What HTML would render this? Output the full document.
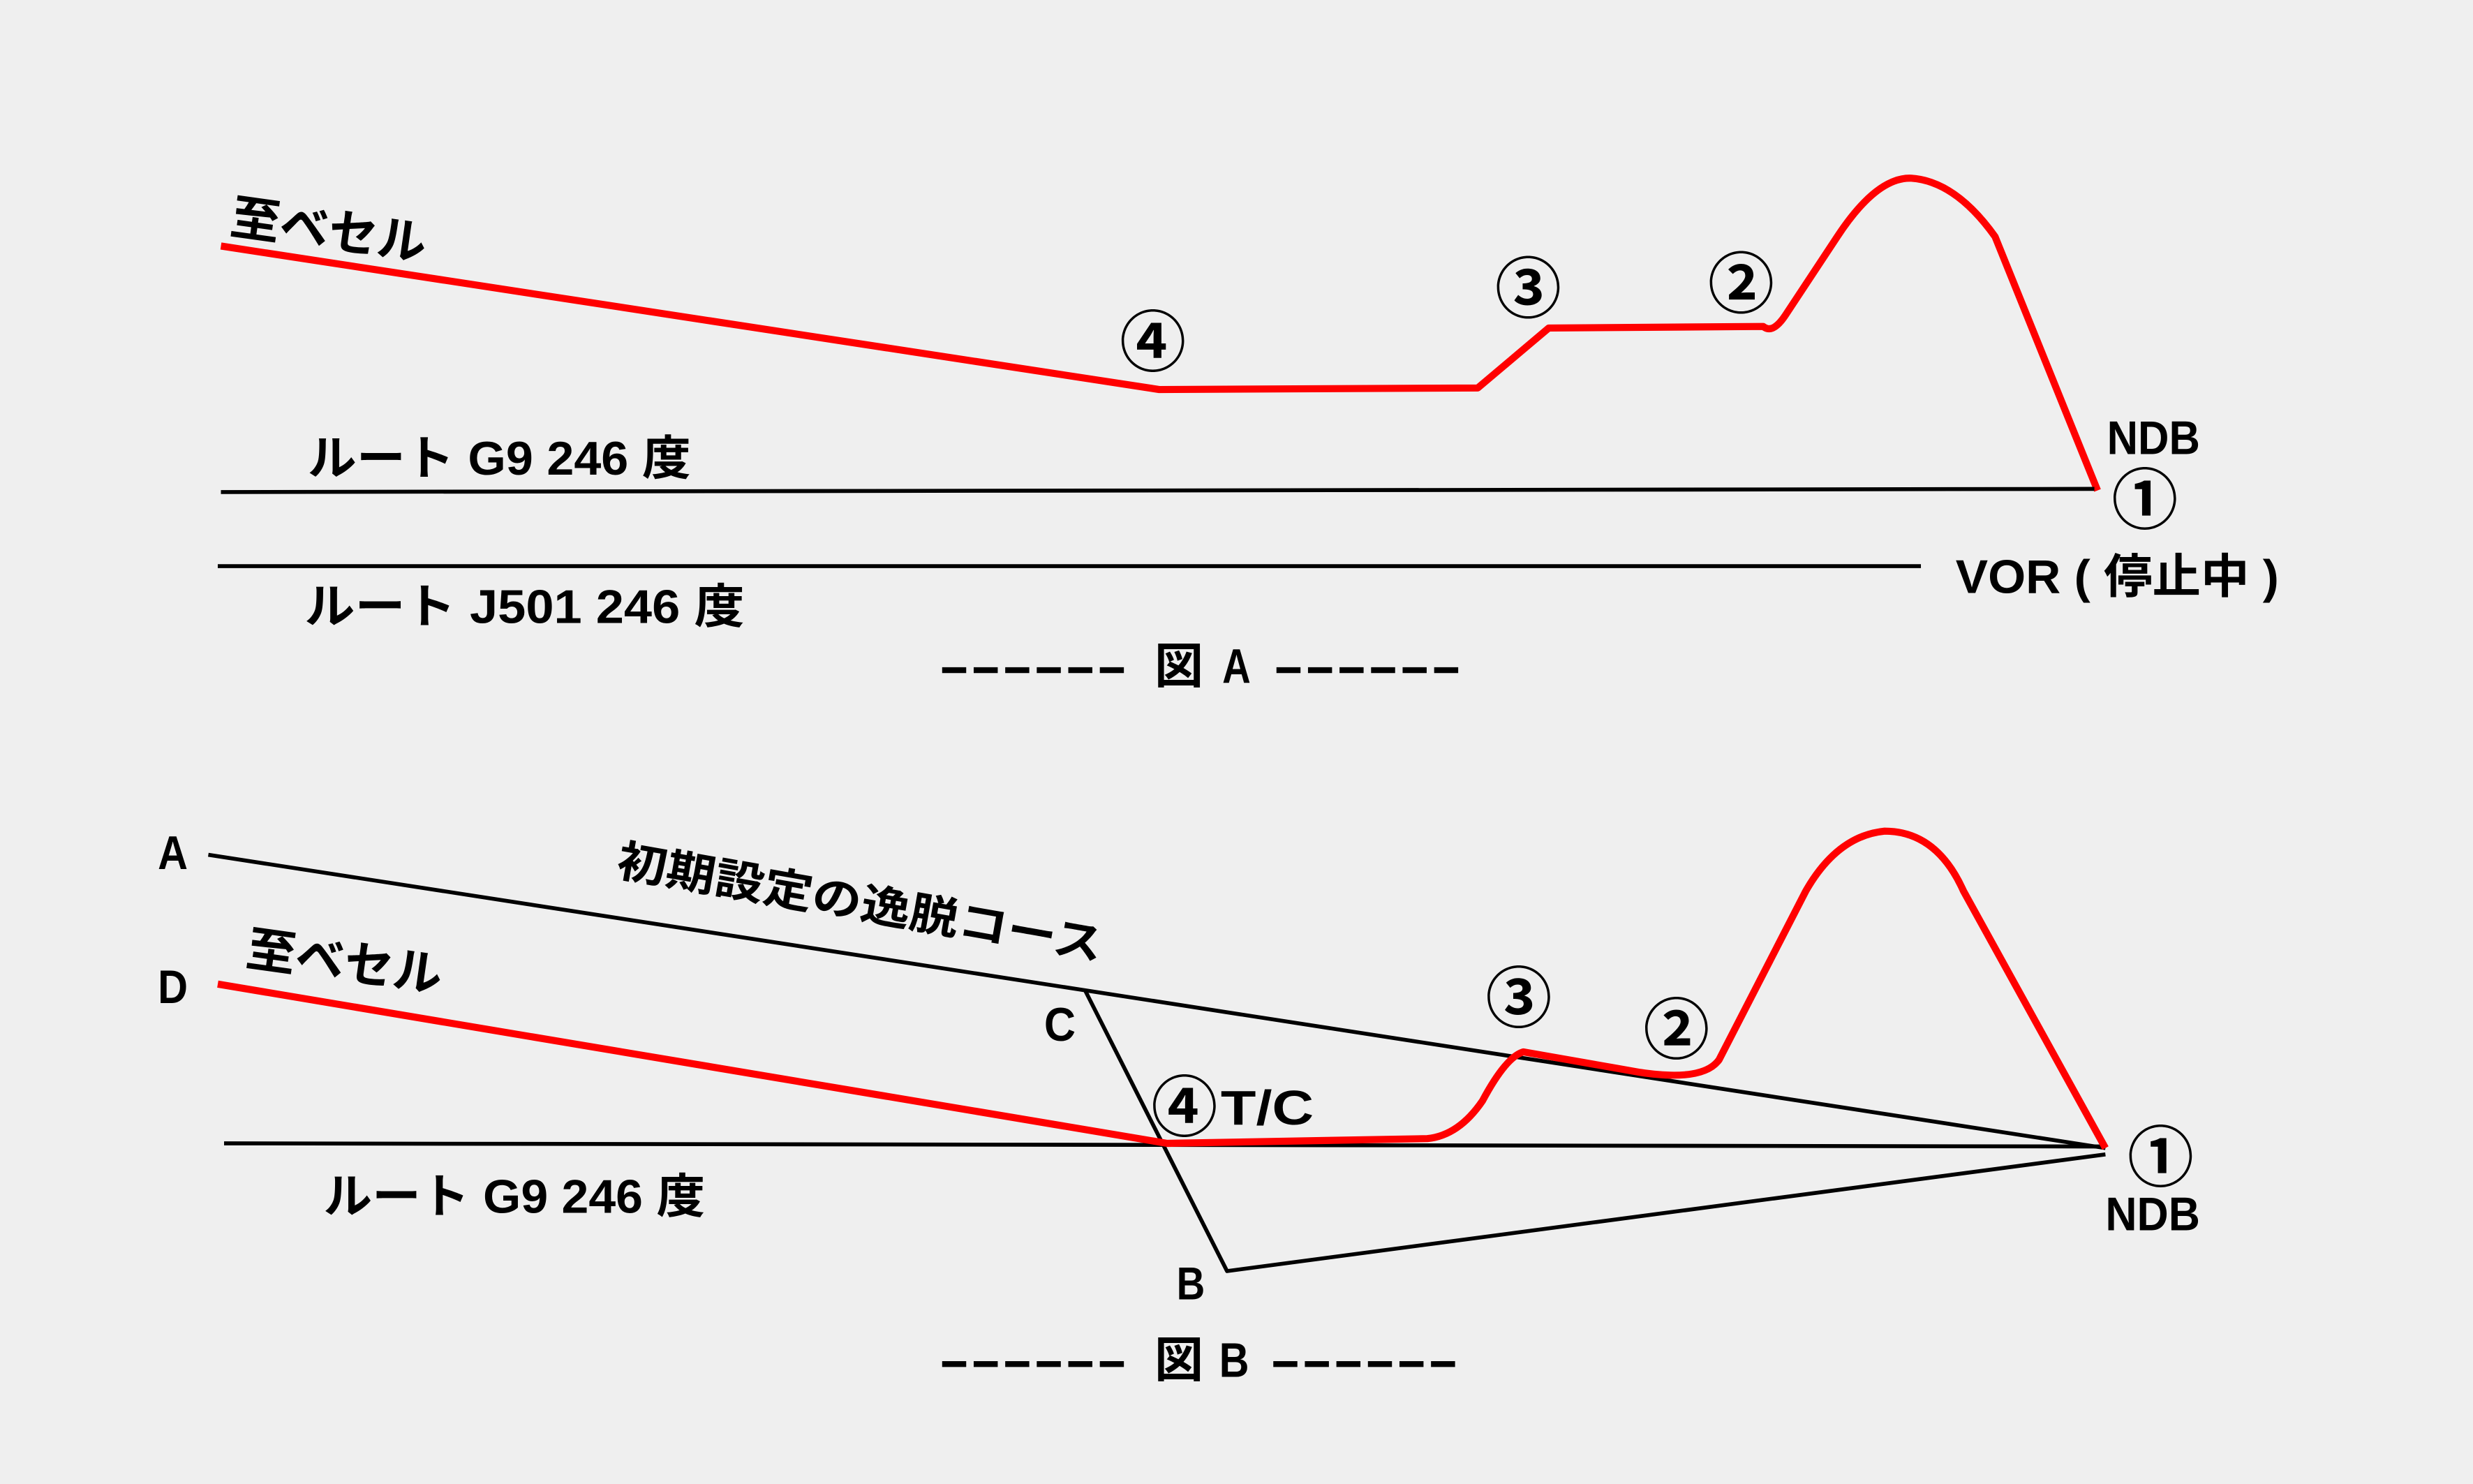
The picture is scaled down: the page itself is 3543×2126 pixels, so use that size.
<!DOCTYPE html>
<html><head><meta charset="utf-8"><style>
html,body{margin:0;padding:0;background:#efefef;}
svg{display:block;}
text{font-family:"Liberation Sans","Noto Sans CJK JP",sans-serif;font-weight:bold;fill:#000;}
</style></head><body>
<svg width="3543" height="2126" viewBox="0 0 1568 941" xmlns="http://www.w3.org/2000/svg">
<rect width="1568" height="941" fill="#efefef"/>
<!-- Figure A -->
<g fill="none" stroke-linejoin="round">
<path d="M140,156 L735,247 L937,246 L982,208 L1118,207 Q1124,212 1132,200 L1165,150 Q1190,112 1212,113 Q1240,115 1265,150 L1330,311" stroke="#f00" stroke-width="4.5"/>
<path d="M140,312 L1328,310" stroke="#000" stroke-width="2.5"/>
<path d="M138,359 L1218,359" stroke="#000" stroke-width="2.5"/>
</g>
<text x="145" y="148" font-size="31" textLength="125" lengthAdjust="spacingAndGlyphs" transform="rotate(8 145 148)">至ベセル</text>
<text x="195" y="301" font-size="30" textLength="243" lengthAdjust="spacingAndGlyphs">ルート G9 246 度</text>
<text x="193" y="395" font-size="30" textLength="279" lengthAdjust="spacingAndGlyphs">ルート J501 246 度</text>
<text x="1240" y="376" font-size="30" textLength="205" lengthAdjust="spacingAndGlyphs">VOR ( 停止中 )</text>
<text x="1336" y="288" font-size="30" textLength="59" lengthAdjust="spacingAndGlyphs">NDB</text>
<g font-size="42" font-weight="normal">
<text x="710" y="232">④</text><text x="948" y="198">③</text><text x="1083" y="195">②</text><text x="1339" y="332">①</text>
</g>
<g font-size="31">
<text x="595" y="433" textLength="120" lengthAdjust="spacingAndGlyphs">------</text>
<text x="732" y="433" textLength="31" lengthAdjust="spacingAndGlyphs">図</text>
<text x="775" y="433" textLength="18" lengthAdjust="spacingAndGlyphs">A</text>
<text x="807" y="433" textLength="120" lengthAdjust="spacingAndGlyphs">------</text>
</g>
<!-- Figure B -->
<g fill="none" stroke-linejoin="round">
<path d="M132,542 L1335,728" stroke="#000" stroke-width="2.5"/>
<path d="M142,725 L1335,727" stroke="#000" stroke-width="2.5"/>
<path d="M688,628 L778,806 L1335,732" stroke="#000" stroke-width="2.5"/>
<path d="M138,624 L740,725 L905,722 Q925,720 940,698 Q955,670 966,667 L1040,680 Q1080,686 1090,672 L1145,565 Q1165,530 1195,527 Q1228,527 1245,565 L1335,728" stroke="#f00" stroke-width="4.5"/>
</g>
<text x="100" y="551" font-size="30" textLength="19" lengthAdjust="spacingAndGlyphs">A</text>
<text x="100" y="636" font-size="30" textLength="19" lengthAdjust="spacingAndGlyphs">D</text>
<text x="662" y="660" font-size="30" textLength="20" lengthAdjust="spacingAndGlyphs">C</text>
<text x="746" y="824" font-size="29" font-weight="normal" textLength="18" lengthAdjust="spacingAndGlyphs">B</text>
<text x="390" y="555" font-size="28" textLength="312" lengthAdjust="spacingAndGlyphs" transform="rotate(10 390 555)">初期設定の逸脱コース</text>
<text x="155" y="612" font-size="31" textLength="125" lengthAdjust="spacingAndGlyphs" transform="rotate(8 155 612)">至ベセル</text>
<text x="205" y="769" font-size="30" textLength="242" lengthAdjust="spacingAndGlyphs">ルート G9 246 度</text>
<text x="774" y="713" font-size="31" textLength="59" lengthAdjust="spacingAndGlyphs">T/C</text>
<text x="1335" y="780" font-size="30" textLength="60" lengthAdjust="spacingAndGlyphs">NDB</text>
<g font-size="42" font-weight="normal">
<text x="730" y="717">④</text><text x="942" y="648">③</text><text x="1042" y="668">②</text><text x="1349" y="749">①</text>
</g>
<g font-size="31">
<text x="595" y="873" textLength="120" lengthAdjust="spacingAndGlyphs">------</text>
<text x="732" y="873" textLength="31" lengthAdjust="spacingAndGlyphs">図</text>
<text x="773" y="873" textLength="19" lengthAdjust="spacingAndGlyphs">B</text>
<text x="805" y="873" textLength="120" lengthAdjust="spacingAndGlyphs">------</text>
</g>
</svg>
</body></html>
